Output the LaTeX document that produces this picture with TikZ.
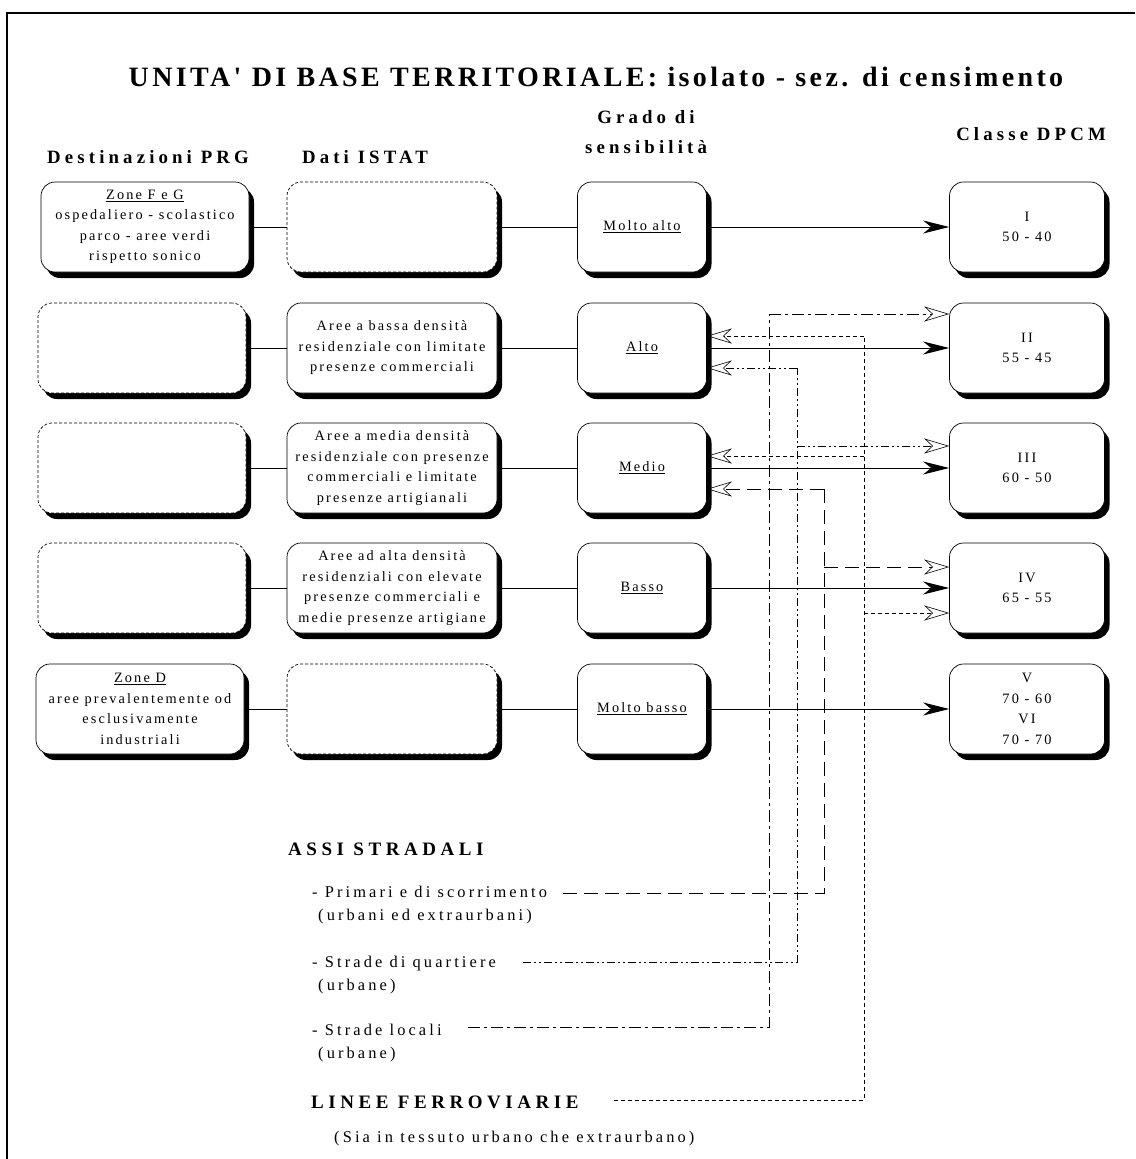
\documentclass[tikz,border=0pt]{standalone}
\usepackage{fontspec}
\setmainfont{Liberation Serif}
\newfontfamily\bxf[LetterSpace=15]{Liberation Serif}
\newfontfamily\hdf[LetterSpace=22]{Liberation Serif}
\newfontfamily\lgf[LetterSpace=19]{Liberation Serif}
\newfontfamily\lgbf[LetterSpace=24]{Liberation Serif}
\newfontfamily\ttlf[LetterSpace=12]{Liberation Serif}
\usetikzlibrary{arrows.meta,shadows}
\begin{document}
\begin{tikzpicture}[x=1pt,y=-1pt,
  card/.style={draw, line width=0.7pt, fill=white, rounded corners=14pt,
    minimum height=90pt, inner sep=0pt, align=center,
    font=\bxf\fontsize{14.3}{20.5}\selectfont,
    drop shadow={shadow xshift=5pt,shadow yshift=-6pt,fill=black,opacity=1}},
  ghost/.style={card, dash pattern=on 3pt off 2pt},
  colA/.style={minimum width=208pt},
  colB/.style={minimum width=210pt},
  colC/.style={minimum width=129pt},
  colD/.style={minimum width=155pt},
  hdr/.style={inner sep=0pt, align=center, font=\hdf\bfseries\fontsize{18.8}{30}\selectfont},
  lbl/.style={inner sep=0pt, anchor=base west, font=\lgf\fontsize{16.4}{18}\selectfont},
  lblb/.style={inner sep=0pt, anchor=base west, font=\lgbf\bfseries\fontsize{19}{22}\selectfont},
  thinline/.style={line width=0.6pt},
  mainarrow/.style={line width=0.9pt, -{Stealth[length=26pt,width=13pt,inset=8pt]}},
  openarr/.style={-{Stealth[open,length=25pt,width=15pt,inset=8pt,line width=0.6pt]}},
  primari/.style={line width=0.6pt, dash pattern=on 14pt off 7pt},
  quartiere/.style={line width=0.6pt, dash pattern=on 8pt off 3pt on 2pt off 3pt on 2pt off 3pt},
  locali/.style={line width=0.6pt, dash pattern=on 12pt off 4pt on 3pt off 4pt},
  ferro/.style={line width=0.6pt, dash pattern=on 4pt off 3pt}
]
\useasboundingbox (0,0) rectangle (1135,1159);
\fill[white] (0,0) rectangle (1135,1159);
\draw[line width=1.2pt] (7,1159) -- (7,13) -- (1135,13);

% title and headers
\node[inner sep=0pt, font=\ttlf\bfseries\fontsize{28}{30}\selectfont] (title) at (596,77)
  {UNITA' DI BASE TERRITORIALE: isolato - sez. di censimento};
\node[hdr] (h1) at (148,157) {Destinazioni PRG};
\node[hdr] (h2) at (365,157) {Dati ISTAT};
\node[hdr] (h3) at (646,132) {Grado di\\sensibilità};
\node[hdr] (h4) at (1031,134) {Classe DPCM};

% row 1
\node[card,colA] (a1) at (145,227) {\underline{Zone F e G}\\ospedaliero - scolastico\\parco - aree verdi\\rispetto sonico};
\node[ghost,colB] (b1) at (392,227) {};
\node[card,colC] (g1) at (642,227) {\underline{Molto alto}};
\node[card,colD] (k1) at (1027,227) {I\\50 - 40};
% row 2
\node[ghost,colA] (a2) at (142,348) {};
\node[card,colB] (b2) at (392,348) {Aree a bassa densità\\residenziale con limitate\\presenze commerciali};
\node[card,colC] (g2) at (642,348) {\underline{Alto}};
\node[card,colD] (k2) at (1027,348) {II\\55 - 45};
% row 3
\node[ghost,colA] (a3) at (142,468) {};
\node[card,colB] (b3) at (392,468) {Aree a media densità\\residenziale con presenze\\commerciali e limitate\\presenze artigianali};
\node[card,colC] (g3) at (642,468) {\underline{Medio}};
\node[card,colD] (k3) at (1027,468) {III\\60 - 50};
% row 4
\node[ghost,colA] (a4) at (142,588) {};
\node[card,colB] (b4) at (392,588) {Aree ad alta densità\\residenziali con elevate\\presenze commerciali e\\medie presenze artigiane};
\node[card,colC] (g4) at (642,588) {\underline{Basso}};
\node[card,colD] (k4) at (1027,588) {IV\\65 - 55};
% row 5
\node[card,colA] (a5) at (140,709) {\underline{Zone D}\\aree prevalentemente od\\esclusivamente\\industriali};
\node[ghost,colB] (b5) at (392,709) {};
\node[card,colC] (g5) at (642,709) {\underline{Molto basso}};
\node[card,colD] (k5) at (1027,709) {V\\70 - 60\\VI\\70 - 70};

\foreach \r in {1,...,5}{
  \draw[thinline] (a\r) -- (b\r);
  \draw[thinline] (b\r) -- (g\r);
  \draw[mainarrow] (g\r) -- (k\r);
}

% legend texts
\node[lblb] (assi) at (288,855) {ASSI STRADALI};
\node[lbl] (t1) at (312,897) {- Primari e di scorrimento};
\node[lbl] (t1b) at (318,920) {(urbani ed extraurbani)};
\node[lbl] (t2) at (312,967) {- Strade di quartiere};
\node[lbl] (t2b) at (318,990) {(urbane)};
\node[lbl] (t3) at (312,1035) {- Strade locali};
\node[lbl] (t3b) at (318,1058) {(urbane)};
\node[lblb] (lf) at (311,1108) {LINEE FERROVIARIE};
\node[lbl] (lfb) at (334,1142) {(Sia in tessuto urbano che extraurbano)};

% primari
\coordinate (prS) at (563,893);
\coordinate (prX) at (824,893);
\coordinate (prTop) at (824,489);
\coordinate (prBr) at (824,567);
\draw[primari] (prS) -- (prX) -- (prTop);
\draw[primari,openarr] (prTop) -- (prTop -| g3.east);
\draw[primari,openarr] (prBr) -- (prBr -| k4.west);
% quartiere
\coordinate (qS) at (523,962);
\coordinate (qX) at (797,962);
\coordinate (qTop) at (797,368);
\coordinate (qBr) at (797,446);
\draw[quartiere] (qS) -- (qX) -- (qTop);
\draw[quartiere,openarr] (qTop) -- (qTop -| g2.east);
\draw[quartiere,openarr] (qBr) -- (qBr -| k3.west);
% locali
\coordinate (lS) at (468,1027);
\coordinate (lX) at (769,1027);
\coordinate (lTop) at (769,314);
\draw[locali] (lS) -- (lX) -- (lTop);
\draw[locali,openarr] (lTop) -- (lTop -| k2.west);
% ferrovie
\coordinate (fS) at (614,1100);
\coordinate (fX) at (864,1100);
\coordinate (fTop) at (864,336);
\coordinate (fB1) at (864,456);
\coordinate (fB2) at (864,613);
\draw[ferro] (fS) -- (fX) -- (fTop);
\draw[ferro,openarr] (fTop) -- (fTop -| g2.east);
\draw[ferro,openarr] (fB1) -- (fB1 -| g3.east);
\draw[ferro,openarr] (fB2) -- (fB2 -| k4.west);
\end{tikzpicture}
\end{document}
